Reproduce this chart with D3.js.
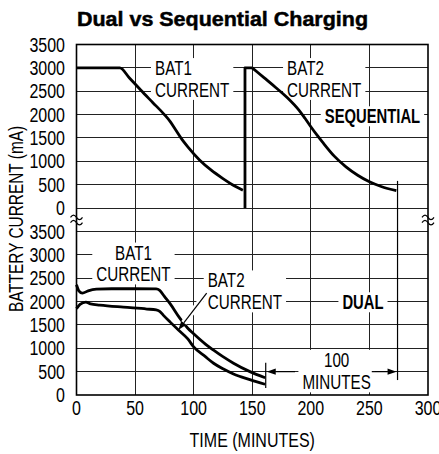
<!DOCTYPE html>
<html>
<head>
<meta charset="utf-8">
<script src="https://cdn.jsdelivr.net/npm/d3@7"></script>
<style>
  body { margin: 0; background: #fff; }
  svg text { font-family: "Liberation Sans", Arial, sans-serif; font-size: 20px; fill: #000; }
</style>
</head>
<body>
<svg id="chart" width="439" height="454"></svg>
<script>
// axis ticks
const timeTicks = [0, 50, 100, 150, 200, 250, 300];
const currentTicks = [0, 500, 1000, 1500, 2000, 2500, 3000, 3500];

// sequential charging (minutes, mA): BAT1 charges first
const seqBat1 = [
    [0, 3000], [37, 3000], [45, 2790], [55, 2520], [65, 2260], [75, 2000],
    [80, 1850], [85, 1660], [90, 1470], [95, 1310], [105, 1030], [115, 810],
    [125, 630], [135, 470], [142, 380]
];
// BAT2 switches on when BAT1 is done
const seqBat2Step = [[143.8, 0], [143.8, 3000], [150, 3000]];
const seqBat2 = [
    [150, 3000], [160, 2790], [170, 2580], [180, 2360], [190, 2090], [195, 1920],
    [200, 1740], [205, 1570], [210, 1410], [220, 1110], [230, 880], [240, 700],
    [250, 560], [260, 460], [273, 370]
];

// dual charging (minutes, mA): both batteries at once
const dualBat1 = [
    [0, 2360], [2, 2230], [5, 2180], [10, 2230], [17, 2265], [30, 2275],
    [50, 2275], [68, 2270], [71, 2240], [75, 2110], [80, 1950], [88, 1650],
    [95, 1430], [100, 1310], [110, 1090], [117, 960], [125, 820], [134, 680],
    [148, 500], [161, 370]
];
const dualBat2 = [
    [0, 1850], [3, 1940], [8, 1990], [12, 1950], [20, 1925], [40, 1880],
    [60, 1840], [68, 1820], [71, 1790], [74, 1710], [80, 1560], [87, 1390],
    [95, 1200], [100, 1030], [110, 820], [117, 680], [125, 560], [134, 450],
    [148, 330], [161, 230]
];

// end of charge in each mode (minutes)
const dualEnd = 161.5;
const seqEnd = 274;

let svg = d3.select('#chart');

let x = d3.scaleLinear().domain([0, 300]).range([76.5, 428]);
let yTop = d3.scaleLinear().domain([0, 3500]).range([208, 44.5]);
let yBot = d3.scaleLinear().domain([0, 3500]).range([395, 231.5]);

// half the cap height, to centre text on a value
const mid = 7.2;

// squeeze text to look like a condensed face
function narrow(sel, k) {
    sel.each(function () {
        let len = this.getComputedTextLength();
        d3.select(this)
            .attr('textLength', len * k)
            .attr('lengthAdjust', 'spacingAndGlyphs');
    });
    return sel;
}

// title
svg.append('text')
    .attr('x', 222.5).attr('y', 26)
    .attr('text-anchor', 'middle')
    .attr('textLength', 291).attr('lengthAdjust', 'spacingAndGlyphs')
    .style('font-weight', 'bold').style('font-size', '21px')
    .style('stroke', '#000').style('stroke-width', 0.5)
    .text('Dual vs Sequential Charging');

// grid
let grid = svg.append('g')
    .attr('stroke', '#222').attr('stroke-width', 1)
    .attr('shape-rendering', 'crispEdges');

grid.selectAll('.vgrid').data(timeTicks.slice(1, -1)).join('line')
    .attr('x1', d => x(d)).attr('x2', d => x(d))
    .attr('y1', yTop(3500)).attr('y2', yBot(0));

// top panel: 0..3000 (3500 is the frame)
grid.selectAll('.hgridTop').data(currentTicks.slice(0, -1)).join('line')
    .attr('x1', x(0)).attr('x2', x(300))
    .attr('y1', d => yTop(d)).attr('y2', d => yTop(d));

// bottom panel: 500..3500 (0 is the frame)
grid.selectAll('.hgridBot').data(currentTicks.slice(1)).join('line')
    .attr('x1', x(0)).attr('x2', x(300))
    .attr('y1', d => yBot(d)).attr('y2', d => yBot(d));

// tick labels
narrow(svg.append('g').selectAll('text').data(timeTicks).join('text')
    .attr('x', d => x(d)).attr('y', 415)
    .attr('text-anchor', 'middle')
    .text(d => d), 0.8);

[yTop, yBot].forEach(function (y) {
    narrow(svg.append('g').selectAll('text').data(currentTicks).join('text')
        .attr('x', 65).attr('y', d => y(d) + mid)
        .attr('text-anchor', 'end')
        .text(d => d), 0.8);
});

// axis titles
narrow(svg.append('text')
    .attr('x', x(150)).attr('y', 447)
    .attr('text-anchor', 'middle')
    .text('TIME (MINUTES)'), 0.8);

narrow(svg.append('text')
    .attr('transform', 'translate(23,219) rotate(-90)')
    .attr('text-anchor', 'middle')
    .text('BATTERY CURRENT (mA)'), 0.77);

// label with a white box that cuts the grid
function boxLabel(lines, px, pys, anchor, bold) {
    let g = svg.append('g');
    let rect = g.append('rect').attr('fill', '#fff');
    lines.forEach(function (s, i) {
        narrow(g.append('text')
            .attr('x', px).attr('y', pys[i] + mid)
            .attr('text-anchor', anchor)
            .style('font-weight', bold ? 'bold' : 'normal')
            .text(s), bold ? 0.74 : 0.76);
    });
    let bb = g.node().getBBox();
    rect.attr('x', bb.x - 4).attr('y', bb.y + 1)
        .attr('width', bb.width + 8).attr('height', bb.height - 2);
    return g;
}

boxLabel(['BAT1', 'CURRENT'], x(67), [yTop(3000), yTop(2500) - 1.5], 'start');
boxLabel(['BAT2', 'CURRENT'], x(179.7), [yTop(3000), yTop(2500) - 1.5], 'start');
boxLabel(['SEQUENTIAL'], x(252.6), [yTop(2000) + 1.5], 'middle', true);
boxLabel(['BAT1', 'CURRENT'], x(48.6), [yBot(3000) - 2.5, yBot(2500) - 4], 'middle');
boxLabel(['BAT2', 'CURRENT'], x(112), [yBot(2500) + 2, yBot(2000) + 0.6], 'start');
boxLabel(['DUAL'], x(244.5), [yBot(2000) + 0.5], 'middle', true);
boxLabel(['100', 'MINUTES'], x(222), [yBot(500) - 12, yBot(500) + 10.5], 'middle');

// curves
function drawCurve(data, y, curve) {
    svg.append('path')
        .datum(data)
        .attr('fill', 'none')
        .attr('stroke', '#000')
        .attr('stroke-width', 2.8)
        .attr('stroke-linejoin', 'round')
        .attr('d', d3.line().x(d => x(d[0])).y(d => y(d[1])).curve(curve));
}

drawCurve(seqBat1, yTop, d3.curveMonotoneX);
drawCurve(seqBat2Step, yTop, d3.curveLinear);
drawCurve(seqBat2, yTop, d3.curveMonotoneX);
drawCurve(dualBat1, yBot, d3.curveMonotoneX);
drawCurve(dualBat2, yBot, d3.curveMonotoneX);

// arrow helper
function arrow(x1, y1, x2, y2, halo) {
    let a = Math.atan2(y2 - y1, x2 - x1);
    let len = 9, w = 3.2;
    let bx = x2 - len * Math.cos(a), by = y2 - len * Math.sin(a);
    if (halo) {
        svg.append('line')
            .attr('x1', x1).attr('y1', y1)
            .attr('x2', x1 + (x2 - x1) * 0.82).attr('y2', y1 + (y2 - y1) * 0.82)
            .attr('stroke', '#fff').attr('stroke-width', 6);
    }
    svg.append('line')
        .attr('x1', x1).attr('y1', y1).attr('x2', bx).attr('y2', by)
        .attr('stroke', '#000').attr('stroke-width', 1.2);
    svg.append('path')
        .attr('d', 'M' + x2 + ',' + y2 +
            'L' + (bx + w * Math.sin(a)) + ',' + (by - w * Math.cos(a)) +
            'L' + (bx - w * Math.sin(a)) + ',' + (by + w * Math.cos(a)) + 'Z')
        .attr('fill', '#000');
}

// BAT2 pointer in the dual panel
arrow(x(111.1), yBot(2183), x(86.9), yBot(1391), true);

// "100 minutes" marker between both ends of charge
svg.append('line')
    .attr('x1', x(dualEnd)).attr('x2', x(dualEnd))
    .attr('y1', yBot(690)).attr('y2', yBot(150))
    .attr('stroke', '#000').attr('stroke-width', 1.2);
svg.append('line')
    .attr('x1', x(seqEnd)).attr('x2', x(seqEnd))
    .attr('y1', yTop(580)).attr('y2', yBot(320))
    .attr('stroke', '#000').attr('stroke-width', 1.2);
arrow(x(186.5), yBot(500), x(dualEnd) + 1, yBot(500));
arrow(x(252), yBot(500), x(seqEnd) - 1, yBot(500));

// frame
svg.append('rect')
    .attr('x', x(0)).attr('y', yTop(3500))
    .attr('width', x(300) - x(0)).attr('height', yBot(0) - yTop(3500))
    .attr('fill', 'none').attr('stroke', '#000').attr('stroke-width', 1.6);

// axis break marks
[x(0), x(300)].forEach(function (cx) {
    let cy = 220;
    [-2.6, 2.6].forEach(function (dy) {
        svg.append('path')
            .attr('d', 'M' + (cx - 6) + ',' + (cy + dy) + ' q3,-4.5 6,0 q3,4.5 6,0')
            .attr('fill', 'none').attr('stroke', '#000').attr('stroke-width', 1.2);
    });
});
</script>
</body>
</html>
